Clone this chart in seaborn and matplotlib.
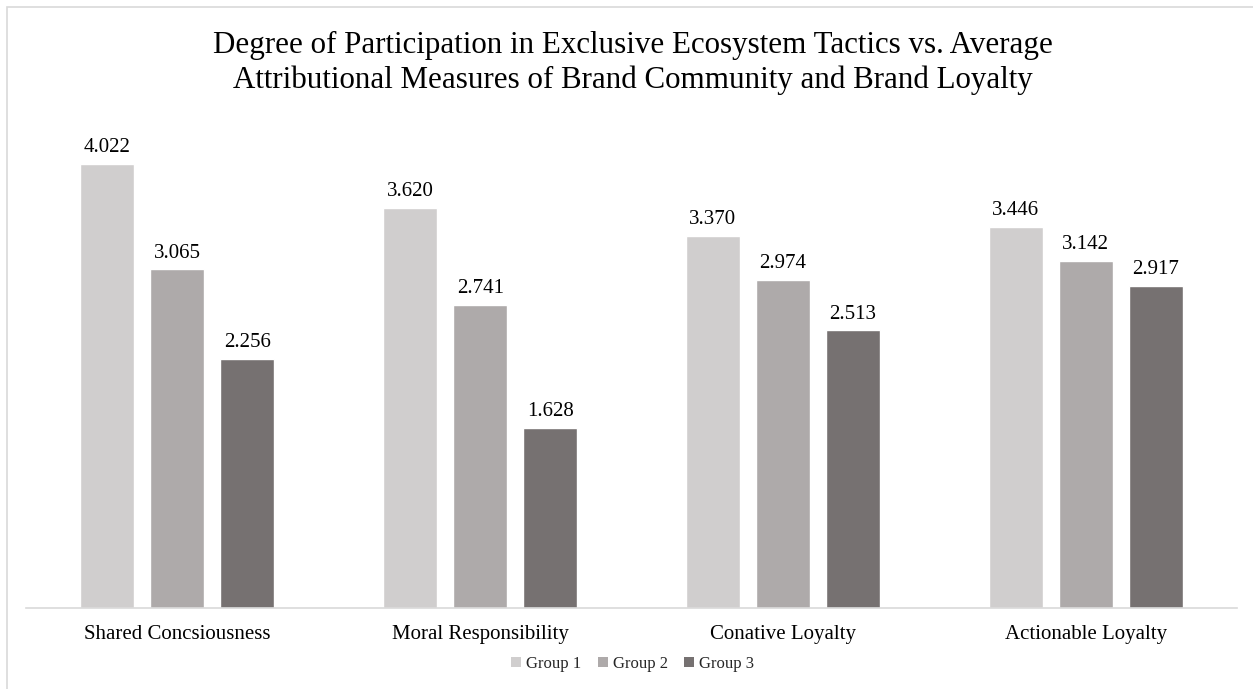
import matplotlib
matplotlib.use("Agg")
import matplotlib.pyplot as plt
import seaborn as sns
import pandas as pd
from matplotlib.patches import Rectangle, Patch

# Average attributional measures by participation group
categories = ["Shared Concsiousness", "Moral Responsibility", "Conative Loyalty", "Actionable Loyalty"]
groups = ["Group 1", "Group 2", "Group 3"]
group1 = [4.022, 3.620, 3.370, 3.446]
group2 = [3.065, 2.741, 2.974, 3.142]
group3 = [2.256, 1.628, 2.513, 2.917]
palette = ["#D0CECE", "#AEAAAA", "#767171"]

df = pd.DataFrame({
    "Measure": categories * 3,
    "Group": [groups[0]] * 4 + [groups[1]] * 4 + [groups[2]] * 4,
    "Value": group1 + group2 + group3,
})

sns.set_theme(style="white")
plt.rcParams["font.family"] = ["Liberation Serif", "DejaVu Serif"]

fig = plt.figure(figsize=(12.53, 6.89), dpi=100)
ax = fig.add_axes([26 / 1253, 81 / 689, 1211 / 1253, 497 / 689])

sns.barplot(data=df, x="Measure", y="Value", hue="Group", order=categories,
            hue_order=groups, palette=palette, width=0.693, gap=0.228,
            saturation=1, legend=False, ax=ax)

for container in ax.containers:
    ax.bar_label(container, fmt="%.3f", padding=5, fontsize=15, color="#000000")

ax.set_xlim(-0.5, 3.5)
ax.set_ylim(0, 4.5)
ax.set_xlabel("")
ax.set_ylabel("")
ax.set_yticks([])
for side in ["top", "left", "right"]:
    ax.spines[side].set_visible(False)
ax.spines["bottom"].set_color("#D9D9D9")
ax.spines["bottom"].set_linewidth(1.2)
ax.tick_params(axis="x", length=0, pad=12, labelsize=15, labelcolor="#000000")

fig.text(0.505, 1 - 63 / 689,
         "Degree of Participation in Exclusive Ecosystem Tactics vs. Average\n"
         "Attributional Measures of Brand Community and Brand Loyalty",
         ha="center", va="center", fontsize=22.3, linespacing=1.22, color="#000000")

handles = [Patch(facecolor=c, edgecolor="none") for c in palette]
fig.legend(handles, groups, loc="center", bbox_to_anchor=(0.505, 1 - 664 / 689),
           ncol=3, frameon=False, fontsize=12, handlelength=0.6, handleheight=0.6,
           handletextpad=0.3, columnspacing=1.0)

# thin frame around the chart area
fig.patches.append(Rectangle((7 / 1253, -0.1), 1.2, 1.1 - 7 / 689,
                             transform=fig.transFigure, fill=False,
                             edgecolor="#D9D9D9", linewidth=1.2))

fig.savefig("out.png", dpi=100)
